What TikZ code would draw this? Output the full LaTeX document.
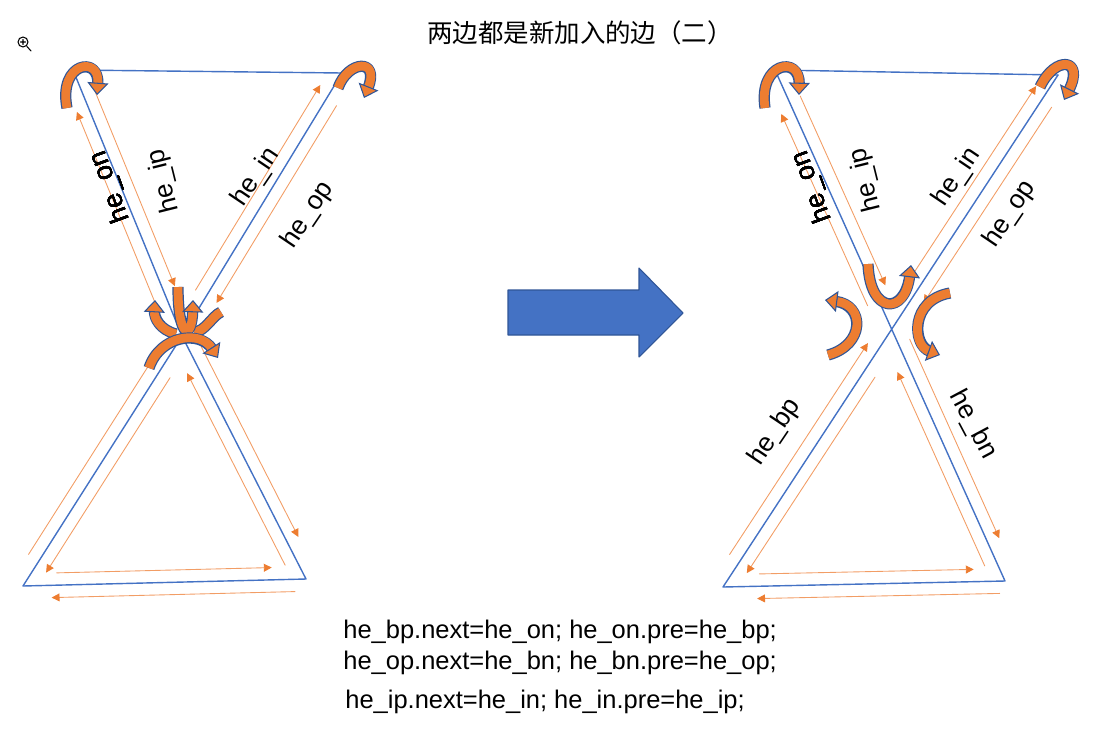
\documentclass[tikz,border=0pt]{standalone}
\usepackage{fontspec}
\setmainfont{Liberation Sans}
\newfontfamily\cjkfont{Noto Sans CJK SC}
\usetikzlibrary{arrows.meta,calc}
\definecolor{heBlue}{HTML}{4472C4}
\definecolor{heDark}{HTML}{2F5597}
\definecolor{heOrange}{HTML}{ED7D31}
\tikzset{
  he figure/.style={x=0.02cm, y=-0.02cm, line cap=round, line join=round},
  he edge/.style={draw=heBlue, line width=0.8pt},
  he line/.style={draw=heOrange!75, line width=0.5pt,
    -{Triangle[length=4.5pt,width=4.5pt,fill=heOrange,color=heOrange]}},
  he turn/.style={draw=heOrange, line width=5pt, line cap=butt,
    -{Triangle[length=7pt,width=12pt,fill=heOrange,color=heDark,line width=0.6pt]},
    preaction={draw=heDark, line width=6.4pt, line cap=butt, arrows=-, shorten >=6pt}},
  he band/.style={draw=heOrange, line width=5pt, line cap=butt,
    preaction={draw=heDark, line width=6.4pt, line cap=butt}},
  he label/.style={font=\fontsize{15}{18}\selectfont, inner sep=0pt},
  he code/.style={font=\fontsize{14.5}{17}\selectfont, anchor=west, inner sep=0pt},
  he move/.style={fill=heBlue, draw=heDark, line width=0.6pt}
}
% half edge: from, to, start and end fraction, drawn on the left side
\newcommand{\halfedge}[4]{\draw[he line] ($(#1)!#3!(#2)!7pt!90:(#2)$) -- ($(#1)!#4!(#2)!7pt!-90:(#1)$);}

\begin{document}
\begin{tikzpicture}[he figure]
\useasboundingbox (0,0) rectangle (1097,730);
\node[font=\cjkfont\fontsize{14.5}{17}\selectfont] (title) at (580,33) {两边都是新加入的边（二）};
\draw[line width=0.6pt] (23,42) circle[radius=5] (20.5,42) -- (25.5,42) (23,39.5) -- (23,44.5) (27,46.5) -- (31,51);

% left: two loops meeting at one vertex
\coordinate (aTL) at (73,70);
\coordinate (aTR) at (342,73);
\coordinate (aV) at (182,336);
\coordinate (aBL) at (23,586);
\coordinate (aBR) at (306,579);
\draw[he edge] (aTL) -- (aTR) -- (aV) -- cycle;
\draw[he edge] (aV) -- (aBL) -- (aBR) -- cycle;
\foreach \a/\b/\s/\e in {aV/aTL/0.15/0.86, aTL/aV/0.10/0.83, aV/aTR/0.15/0.93, aTR/aV/0.10/0.85,
    aBL/aV/0.10/0.94, aV/aBL/0.14/0.92, aBL/aBR/0.12/0.88, aBR/aBL/0.04/0.90,
    aBR/aV/0.08/0.87, aV/aBR/0.05/0.85}
  \halfedge{\a}{\b}{\s}{\e}
\node[he label, rotate=110] (aOn) at (110,187) {he\_on};
\node[he label, rotate=104] (aIp) at (164,181) {he\_ip};
\node[he label, rotate=56] (aIn) at (256,177) {he\_in};
\node[he label, rotate=56] (aOp) at (308,215) {he\_op};
\draw[he turn] (67,108) .. controls (58,62) and (100,55) .. (97,95);
\draw[he turn] (338,88) .. controls (348,60) and (380,58) .. (364,98);
\draw[he turn] (176,334) .. controls (160,330) and (154,318) .. (155,300);
\draw[he band] (221,312) .. controls (212,316) and (205,332) .. (194,332);
\draw[he turn] (178,287) .. controls (178,340) and (192,340) .. (193,300);
\draw[he turn] (149,368) .. controls (160,335) and (200,330) .. (218,358);

% move arrow
\draw[he move] (508,290) -- (639,290) -- (639,268) -- (683,313) -- (639,357) -- (639,335) -- (508,335) -- cycle;

% right: the two new edges cross
\coordinate (bTL) at (775,70);
\coordinate (bTR) at (1058,75);
\coordinate (bBL) at (723,587);
\coordinate (bBR) at (1005,581);
\coordinate (bX) at (intersection of bTL--bBR and bTR--bBL);
\draw[he edge] (bTL) -- (bTR);
\draw[he edge] (bTL) -- (bBR) -- (bBL) -- (bTR);
\foreach \a/\b/\s/\e in {bX/bTL/0.11/0.85, bTL/bX/0.12/0.85, bX/bTR/0.10/0.93, bTR/bX/0.10/0.87,
    bBL/bX/0.10/0.92, bX/bBL/0.16/0.92, bBL/bBR/0.13/0.89, bBR/bBL/0.02/0.88,
    bBR/bX/0.08/0.85, bX/bBR/0.06/0.85}
  \halfedge{\a}{\b}{\s}{\e}
\node[he label, rotate=110] (bOn) at (812,187) {he\_on};
\node[he label, rotate=104] (bIp) at (866,180) {he\_ip};
\node[he label, rotate=56] (bIn) at (957,177) {he\_in};
\node[he label, rotate=56] (bOp) at (1010,214) {he\_op};
\node[he label, rotate=56] (bBp) at (775,432) {he\_bp};
\node[he label, rotate=-62] (bBn) at (973,425) {he\_bn};
\draw[he turn] (765,108) .. controls (758,62) and (800,55) .. (799,95);
\draw[he turn] (1040,87) .. controls (1055,55) and (1085,58) .. (1064,100);
\draw[he turn] (868,264) .. controls (870,315) and (905,315) .. (911,265);
\draw[he turn] (828,355) .. controls (865,345) and (865,305) .. (825,300);
\draw[he turn] (950,293) .. controls (910,300) and (912,345) .. (940,355);

\node[he code] (code1) at (343,632) {he\_bp.next=he\_on; he\_on.pre=he\_bp;};
\node[he code] (code2) at (343,663) {he\_op.next=he\_bn; he\_bn.pre=he\_op;};
\node[he code] (code3) at (345,702) {he\_ip.next=he\_in; he\_in.pre=he\_ip;};
\end{tikzpicture}
\end{document}
